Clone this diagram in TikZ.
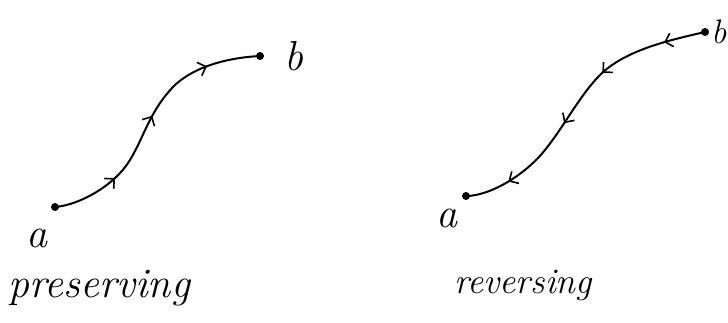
\documentclass[tikz,border=0pt]{standalone}
\usepackage{fontspec}
\usepackage{xcolor}
\usepackage{tikz}
\usetikzlibrary{arrows.meta,decorations.markings,positioning}

\begin{document}
\begin{tikzpicture}[x=1pt, y=-1pt, every node/.style={font=\itshape}]
  \tikzset{
    pt/.style={circle, fill=black, inner sep=0pt, minimum size=8pt},
    lbl/.style={font=\fontsize{42}{48}\selectfont\itshape, inner sep=0pt, anchor=base west},
    small lbl/.style={font=\fontsize{34}{40}\selectfont\itshape, inner sep=0pt, anchor=base west},
    caption/.style={font=\fontsize{42}{48}\selectfont\itshape, inner sep=0pt, anchor=base west},
    small caption/.style={font=\fontsize{36}{42}\selectfont\itshape, inner sep=0pt, anchor=base west},
    trail/.style={line width=2pt, line cap=round},
    flowtip/.tip={Straight Barb[length=7pt, width=14pt, line width=1.6pt]}
  }
  \useasboundingbox (0,0) rectangle (728,322);

  % left: preserving
  \node[pt] (a1) at (55,207) {};
  \node[pt] (b1) at (260,56) {};
  \coordinate (m1) at (130,160);
  \coordinate (n1) at (175,85);
  \node[lbl] (la1) at (26,247) {a};
  \node[lbl] (lb1) at (284,70) {b};
  \draw[trail, decoration={markings,
      mark=at position 0.25 with {\arrow{flowtip}},
      mark=at position 0.52 with {\arrow{flowtip}},
      mark=at position 0.8 with {\arrow{flowtip}}}, postaction={decorate}]
    (a1.center) .. controls (80,205) and (115,185) .. (m1)
    .. controls (145,135) and (150,110) .. (n1)
    .. controls (200,62) and (240,57) .. (b1.center);
  \node[caption] (pres) at (8,297) {preserving};

  % right: reversing
  \node[pt] (a2) at (466,196) {};
  \node[pt] (b2) at (705,32) {};
  \coordinate (m2) at (600,75);
  \coordinate (n2) at (545,150);
  \node[lbl] (la2) at (436,227) {a};
  \node[small lbl] (lb2) at (711,43) {b};
  \draw[trail, decoration={markings,
      mark=at position 0.14 with {\arrow{flowtip}},
      mark=at position 0.37 with {\arrow{flowtip}},
      mark=at position 0.58 with {\arrow{flowtip}},
      mark=at position 0.85 with {\arrow{flowtip}}}, postaction={decorate}]
    (b2.center) .. controls (670,40) and (625,50) .. (m2)
    .. controls (580,95) and (565,125) .. (n2)
    .. controls (525,175) and (490,196) .. (a2.center);
  \node[small caption] (rev) at (454,293) {reversing};
\end{tikzpicture}
\end{document}
